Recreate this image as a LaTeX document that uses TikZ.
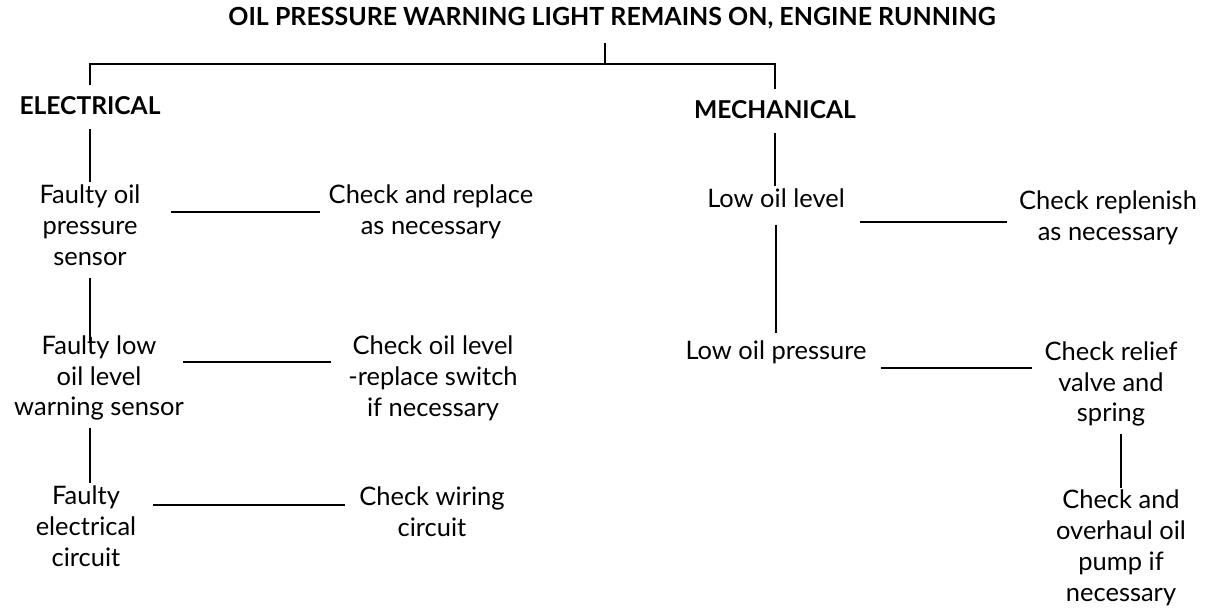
\documentclass[tikz,border=0pt]{standalone}
\usepackage{fontspec}
\setmainfont{Lato}
\usetikzlibrary{positioning}

\tikzset{
  item/.style={align=center, font=\fontsize{14.5}{17.6}\selectfont, inner sep=1pt},
  group/.style={font=\fontsize{14}{16}\selectfont\bfseries, inner sep=1pt},
  link/.style={line width=1.1pt},
}

\begin{document}
\begin{tikzpicture}[x=0.02cm, y=-0.02cm]
  \useasboundingbox (0,0) rectangle (1216,612);
  % heading and the two branches
  \node[group, font=\fontsize{14.2}{16}\selectfont\bfseries] (top) at (612,18) {OIL PRESSURE WARNING LIGHT REMAINS ON, ENGINE RUNNING};
  \node[group] (elec) at (90,106)  {ELECTRICAL};
  \node[group] (mech) at (775,110) {MECHANICAL};
  \coordinate (split) at (605,64);
  \draw[link, shorten <=0.24cm] (top.south -| split) -- (split);
  \draw[link, shorten <=0.2cm, shorten >=0.2cm] (elec.north) |- (split) -| (mech.north);
  % electrical causes and remedies
  \node[item] (f1) at (90,225)  {Faulty oil\\pressure\\sensor};
  \node[item] (c1) at (431,212) {Check and replace\\as necessary};
  \node[item] (f2) at (99,378)  {Faulty low\\oil level\\warning sensor};
  \node[item] (c2) at (433,378) {Check oil level\\-replace switch\\if necessary};
  \node[item] (f3) at (86,526)  {Faulty\\electrical\\circuit};
  \node[item] (c3) at (432,512) {Check wiring\\circuit};
  \draw[link, shorten <=0.24cm] (elec.south) -- (elec.south |- f1.north);
  \draw[link, shorten <=0.2cm, shorten >=-0.2cm] (f1.south) -- (f1.south |- f2.north);
  \draw[link, shorten <=0.1cm, shorten >=0cm] (f2.south -| f1.south) -- (f1.south |- f3.north);
  \draw[link, shorten <=0.56cm, shorten >=0.14cm] (c1.west -| f1.east) -- (c1.west);
  \draw[link, shorten <=-0.06cm, shorten >=0.3cm] ([yshift=0.32cm]c2.west -| f2.east) -- ([yshift=0.32cm]c2.west);
  \draw[link, shorten <=0.3cm, shorten >=0.24cm] ([yshift=0.14cm]c3.west -| f3.east) -- ([yshift=0.14cm]c3.west);
  % mechanical causes and remedies
  \node[item] (m1) at (776,198)  {Low oil level};
  \node[item] (c4) at (1108,218) {Check replenish\\as necessary};
  \node[item] (m2) at (776,352)  {Low oil pressure};
  \node[item] (c5) at (1111,384) {Check relief\\valve and\\spring};
  \node[item] (c6) at (1121,548) {Check and\\overhaul oil\\pump if\\necessary};
  \draw[link, shorten <=0.24cm] (mech.south) -- (mech.south |- m1.north);
  \draw[link, shorten <=0.3cm, shorten >=0.1cm] (m1.south) -- (m2.north);
  \draw[link, shorten <=0.26cm, shorten >=0.2cm] ([yshift=-0.08cm]c4.west -| m1.east) -- ([yshift=-0.08cm]c4.west);
  \draw[link, shorten <=0.24cm, shorten >=0.2cm] ([yshift=0.32cm]c5.west -| m2.east) -- ([yshift=0.32cm]c5.west);
  \draw[link, shorten <=0.1cm, shorten >=0cm] (c5.south -| c6.north) -- (c6.north);
\end{tikzpicture}
\end{document}
